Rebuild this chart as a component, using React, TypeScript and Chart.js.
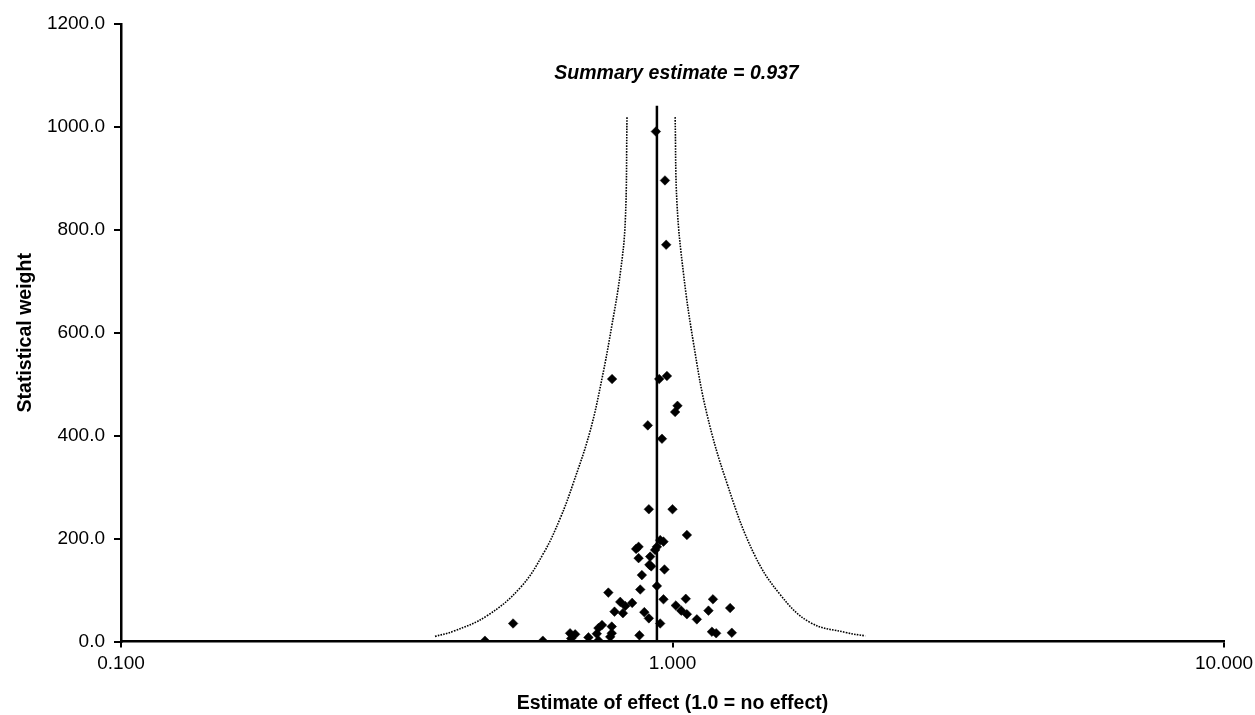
import React, { useEffect, useRef } from "react";
import { Chart, registerables } from "chart.js";

Chart.register(...registerables);

// Study estimates (x, log scale) and statistical weights (y)
const effectEstimates = [
  0.933, 0.969, 0.974, 0.777, 0.946, 0.977, 1.021, 1.011, 0.902, 0.957,
  0.906, 1.0, 1.062, 0.95, 0.963, 0.937, 0.93, 0.868, 0.859, 0.868,
  0.911, 0.908, 0.915, 0.967, 0.88, 0.874, 0.937, 0.765, 0.804, 0.821,
  0.845, 0.785, 0.813, 0.963, 1.057, 1.014, 1.037, 1.062, 1.107, 1.184,
  1.162, 1.272, 0.889, 0.906, 0.95, 0.514, 0.745, 0.734, 0.776, 0.729,
  0.776, 0.771, 0.652, 0.666, 0.655, 0.704, 0.734, 0.871, 1.179, 1.2,
  1.281, 0.457, 0.582,
];
const statWeights = [
  991, 896, 771, 510, 510, 516, 458, 446, 420, 394,
  257, 257, 207, 197, 194, 184, 178, 184, 180, 162,
  165, 149, 146, 140, 129, 101, 108, 95, 77, 69,
  75, 58, 55, 82, 83, 70, 60, 53, 43, 82,
  60, 65, 57, 45, 35, 35, 32, 26, 29, 15,
  16, 9, 16, 14, 6, 8, 2, 12, 19, 16,
  17, 1.5, 1.5,
];

// Funnel limits
const funnelLeftX = [0.371, 0.401, 0.461, 0.53, 0.584, 0.626, 0.661, 0.709, 0.745, 0.776, 0.804, 0.821, 0.827];
const funnelLeftY = [10, 20, 50, 105, 172, 240, 308, 409, 511, 613, 715, 816, 1019];
const funnelRightX = [1.011, 1.019, 1.047, 1.092, 1.154, 1.255, 1.403, 1.568, 1.777, 2.072, 2.236];
const funnelRightY = [1019, 850, 715, 579, 443, 308, 172, 91, 37, 17, 11];

const summaryEstimate = 0.937;
const summaryLineTop = 1041;
const summaryLabel = "Summary estimate = 0.937";
const summaryLabelY = 1103;

const xTicks = [0.1, 1, 10];
const yTicks = [0, 200, 400, 600, 800, 1000, 1200];

const FONT = "'Liberation Sans', Arial, Helvetica, sans-serif";

export default function App() {
  const ref = useRef<HTMLCanvasElement | null>(null);

  useEffect(() => {
    const canvas = ref.current;
    if (!canvas) return;

    const summaryPlugin = {
      id: "summaryText",
      afterDatasetsDraw(chart: any) {
        const { ctx, chartArea, scales } = chart;
        const y = scales.y.getPixelForValue(summaryLabelY);
        const x = (chartArea.left + chartArea.right) / 2 + 4;
        ctx.save();
        ctx.font = `italic bold 19.5px ${FONT}`;
        ctx.fillStyle = "#000";
        ctx.textAlign = "center";
        ctx.textBaseline = "middle";
        ctx.fillText(summaryLabel, x, y);
        ctx.restore();
      },
    };

    const chart = new Chart(canvas, {
      type: "scatter",
      data: {
        datasets: [
          {
            label: "Studies",
            data: effectEstimates.map((v, i) => ({ x: v, y: statWeights[i] })),
            pointStyle: "rectRot",
            pointRadius: 4.8,
            backgroundColor: "#000",
            borderColor: "#000",
            borderWidth: 0.5,
            showLine: false,
          },
          {
            label: "Summary",
            data: [
              { x: summaryEstimate, y: 0 },
              { x: summaryEstimate, y: summaryLineTop },
            ],
            showLine: true,
            borderColor: "#000",
            borderWidth: 2.5,
            pointRadius: 0,
          },
          {
            label: "Lower limit",
            data: funnelLeftX.map((v, i) => ({ x: v, y: funnelLeftY[i] })),
            showLine: true,
            borderColor: "#000",
            borderWidth: 1.6,
            borderDash: [1.6, 1.2],
            tension: 0.4,
            pointRadius: 0,
          },
          {
            label: "Upper limit",
            data: funnelRightX.map((v, i) => ({ x: v, y: funnelRightY[i] })),
            showLine: true,
            borderColor: "#000",
            borderWidth: 1.6,
            borderDash: [1.6, 1.2],
            tension: 0.4,
            pointRadius: 0,
          },
        ],
      },
      options: {
        responsive: false,
        animation: false,
        events: [],
        devicePixelRatio: 1,
        layout: { padding: { top: 24, right: 31, left: 0, bottom: 0 } },
        plugins: {
          legend: { display: false },
          tooltip: { enabled: false },
          title: { display: false },
        },
        scales: {
          x: {
            type: "logarithmic",
            min: 0.1,
            max: 10,
            afterBuildTicks: (scale: any) => {
              scale.ticks = xTicks.map((v) => ({ value: v }));
            },
            afterFit: (scale: any) => {
              scale.height = 73.5;
              scale.paddingLeft = 0;
              scale.paddingRight = 0;
            },
            ticks: {
              color: "#000",
              font: { family: FONT, size: 19 },
              padding: 5,
              maxRotation: 0,
              autoSkip: false,
              callback: (v: any) => Number(v).toFixed(3),
            },
            grid: {
              display: true,
              drawOnChartArea: false,
              drawTicks: true,
              tickLength: 6,
              color: "#000",
              lineWidth: 2,
            },
            border: { display: true, color: "#000", width: 2.5 },
            title: {
              display: true,
              text: "Estimate of effect (1.0 = no effect)",
              color: "#000",
              font: { family: FONT, size: 19.5, weight: "bold" },
              padding: { top: 0, bottom: 0 },
            },
          },
          y: {
            type: "linear",
            min: 0,
            max: 1200,
            afterBuildTicks: (scale: any) => {
              scale.ticks = yTicks.map((v) => ({ value: v }));
            },
            afterFit: (scale: any) => {
              scale.width = 121;
              scale.paddingTop = 0;
              scale.paddingBottom = 0;
            },
            ticks: {
              color: "#000",
              font: { family: FONT, size: 19 },
              padding: 9,
              callback: (v: any) => Number(v).toFixed(1),
            },
            grid: {
              display: true,
              drawOnChartArea: false,
              drawTicks: true,
              tickLength: 7,
              color: "#000",
              lineWidth: 2,
            },
            border: { display: true, color: "#000", width: 2.5 },
            title: {
              display: true,
              text: "Statistical weight",
              color: "#000",
              font: { family: FONT, size: 19.5, weight: "bold" },
              padding: { top: 14, bottom: 0 },
            },
          },
        },
      },
      plugins: [summaryPlugin],
    } as any);

    return () => chart.destroy();
  }, []);

  return (
    <div style={{ position: "absolute", left: 0, top: 0, width: 1255, height: 715, background: "#fff" }}>
      <canvas ref={ref} width={1255} height={715} style={{ width: 1255, height: 715, display: "block" }} />
    </div>
  );
}
